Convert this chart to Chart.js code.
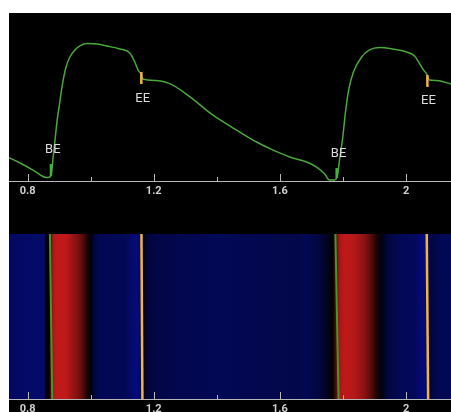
<!DOCTYPE html>
<html>
<head>
<meta charset="utf-8">
<script src="https://cdn.jsdelivr.net/npm/chart.js@4.4.1/dist/chart.umd.min.js"></script>
<style>
  html, body { margin: 0; padding: 0; background: #fff; }
  #panel { position: absolute; left: 9px; top: 13px; width: 442px; height: 399px; background: #000; }
  canvas { position: absolute; left: 9px; }
  #wave { top: 13px; }
  #spec { top: 200px; }
</style>
</head>
<body>
<div id="panel"></div>
<canvas id="wave" width="442" height="187"></canvas>
<canvas id="spec" width="442" height="212"></canvas>
<script>
// time axis (s)
const X_MIN = 0.741;
const X_MAX = 2.1425;
const majorTicks = [0.8, 1.2, 1.6, 2.0];
const minorTicks = [1.0, 1.4, 1.8];

// pressure-like waveform, arbitrary units (0 = axis, 100 = panel top)
const waveTime = [
  0.741, 0.776, 0.817, 0.852, 0.864, 0.871, 0.877, 0.880, 0.887, 0.893,
  0.903, 0.909, 0.921, 0.934, 0.950, 0.966, 0.988, 1.020, 1.055, 1.092,
  1.124, 1.140, 1.153, 1.159, 1.165, 1.209, 1.260, 1.314, 1.387, 1.472,
  1.526, 1.577, 1.631, 1.685, 1.716, 1.742, 1.757, 1.773, 1.783, 1.789,
  1.799, 1.808, 1.818, 1.833, 1.859, 1.884, 1.916, 1.957, 2.001, 2.027,
  2.042, 2.055, 2.066, 2.074, 2.097, 2.1425
];
const waveValue = [
  13.9, 10.7, 6.5, 2.4, 2.1, 2.4, 6.5, 12.5, 24.4, 35.1,
  48.2, 56.0, 67.3, 73.8, 78.0, 80.4, 81.8, 81.5, 80.2, 78.6,
  76.2, 70.8, 65.1, 64.3, 60.7, 59.8, 57.1, 50.2, 39.3, 29.2,
  23.2, 18.5, 14.3, 11.3, 8.3, 4.2, 0.6, 0.6, 3.6, 12.5,
  25.6, 41.1, 54.2, 64.9, 73.8, 78.0, 79.5, 78.6, 76.8, 74.4,
  70.2, 66.1, 63.5, 60.1, 59.8, 57.7
];

// event markers
const beTimes = [0.874, 1.780];
const beLow = [3.0, 1.8];
const beHigh = [10.1, 7.7];
const eeTimes = [1.1606, 2.0677];
const eeLow = [57.7, 56.0];
const eeHigh = [64.9, 63.1];

const markText = ["BE", "EE", "BE", "EE"];
const markTextTime = [0.880, 1.165, 1.786, 2.071];
const markTextValue = [18.5, 48.8, 16.1, 47.6];

// spectrogram: time vs signed level (-1 blue .. 0 black .. +1 red)
const specTime = [
  0.741, 0.776, 0.839, 0.852, 0.858, 0.868, 0.880, 0.890, 0.921, 0.934,
  0.959, 0.978, 0.991, 1.001, 1.013, 1.029, 1.108, 1.124, 1.146, 1.159,
  1.168, 1.178, 1.203, 1.282, 1.409, 1.536, 1.662, 1.678, 1.726, 1.751,
  1.767, 1.789, 1.805, 1.837, 1.868, 1.890, 1.906, 1.922, 1.941, 1.979,
  2.027, 2.056, 2.068, 2.081, 2.106, 2.1425
];
const specLevel = [
  -0.6, -0.65, -0.68, -0.7, -0.1, 0.0, 0.8, 0.9, 0.9, 0.8,
  0.6, 0.35, 0.1, -0.1, -0.4, -0.55, -0.55, -0.65, -0.8, -0.6,
  -0.2, -0.35, -0.45, -0.5, -0.55, -0.5, -0.48, -0.55, -0.4, -0.2,
  0.0, 0.8, 0.9, 0.85, 0.65, 0.4, 0.15, -0.1, -0.4, -0.55,
  -0.6, -0.8, -0.6, -0.4, -0.55, -0.55
];
const beLineTop = [0.8708, 1.776];
const beLineBottom = [0.878, 1.786];
const eeLineTop = [1.161, 2.0656];
const eeLineBottom = [1.164, 2.070];

const GREEN = "#4aa83c";
const MARK_GREEN = "#3fb43a";
const YELLOW = "#f2b43a";
const AXIS = "#b8b8b8";

function levelColor(l) {
  const a = Math.min(1, Math.abs(l));
  if (l < 0) return `rgb(${Math.round(6 * a)},${Math.round(14 * a)},${Math.round(155 * a)})`;
  return `rgb(${Math.round(212 * a)},${Math.round(28 * a)},${Math.round(28 * a)})`;
}

function heatGradient(chart) {
  const { ctx, chartArea, scales } = chart;
  if (!chartArea || !scales.x) return "rgba(0,0,0,0)";
  const w = chartArea.right - chartArea.left;
  const g = ctx.createLinearGradient(chartArea.left, 0, chartArea.right, 0);
  specTime.forEach((t, i) => {
    const p = (scales.x.getPixelForValue(t) - chartArea.left) / w;
    g.addColorStop(Math.min(1, Math.max(0, p)), levelColor(specLevel[i]));
  });
  return g;
}

// small tick marks pointing up into the plot
const tickMarks = {
  id: "tickMarks",
  afterDatasetsDraw(chart) {
    const { ctx, chartArea, scales } = chart;
    const y = chartArea.bottom;
    ctx.save();
    ctx.strokeStyle = AXIS;
    ctx.lineWidth = 1;
    majorTicks.forEach((v) => {
      const x = Math.round(scales.x.getPixelForValue(v)) + 0.5;
      ctx.beginPath(); ctx.moveTo(x, y); ctx.lineTo(x, y - 7); ctx.stroke();
    });
    minorTicks.forEach((v) => {
      const x = Math.round(scales.x.getPixelForValue(v)) + 0.5;
      ctx.beginPath(); ctx.moveTo(x, y); ctx.lineTo(x, y - 4); ctx.stroke();
    });
    ctx.restore();
  },
};

const markLabels = {
  id: "markLabels",
  afterDatasetsDraw(chart) {
    if (chart.canvas.id !== "wave") return;
    const { ctx, scales } = chart;
    ctx.save();
    ctx.fillStyle = "#dcdcdc";
    ctx.font = "13px Roboto";
    ctx.textAlign = "center";
    ctx.textBaseline = "middle";
    markText.forEach((txt, i) => {
      ctx.fillText(txt, scales.x.getPixelForValue(markTextTime[i]), scales.y.getPixelForValue(markTextValue[i]));
    });
    ctx.restore();
  },
};

function xScale(height) {
  return {
    type: "linear",
    min: X_MIN,
    max: X_MAX,
    afterBuildTicks: (scale) => {
      scale.ticks = majorTicks.map((v) => ({ value: v }));
    },
    afterFit: (scale) => {
      scale.height = height;
    },
    grid: { display: false, drawTicks: false },
    border: { display: true, color: AXIS, width: 1 },
    ticks: {
      color: "#cfcfcf",
      padding: 4,
      maxRotation: 0,
      autoSkip: false,
      font: { family: "Roboto", size: 11, weight: "bold" },
      callback: (v) => String(Math.round(v * 10) / 10),
    },
  };
}

function segment(t1, v1, t2, v2, color, width) {
  return {
    data: [{ x: t1, y: v1 }, { x: t2, y: v2 }],
    borderColor: color,
    borderWidth: width,
    pointRadius: 0,
    order: 0,
  };
}

const baseOptions = {
  responsive: false,
  devicePixelRatio: 1,
  animation: false,
  plugins: { legend: { display: false }, tooltip: { enabled: false } },
};

new Chart(document.getElementById("wave"), {
  type: "line",
  data: {
    datasets: [
      {
        data: waveTime.map((t, i) => ({ x: t, y: waveValue[i] })),
        borderColor: GREEN,
        borderWidth: 1.5,
        pointRadius: 0,
        cubicInterpolationMode: "monotone",
        order: 1,
      },
      ...beTimes.map((t, i) => segment(t, beLow[i], t, beHigh[i], MARK_GREEN, 2.5)),
      ...eeTimes.map((t, i) => segment(t, eeLow[i], t, eeHigh[i], YELLOW, 2.5)),
    ],
  },
  options: {
    ...baseOptions,
    layout: { padding: 0 },
    scales: {
      x: xScale(19),
      y: { display: false, min: 0, max: 100 },
    },
  },
  plugins: [tickMarks, markLabels],
});

new Chart(document.getElementById("spec"), {
  type: "line",
  data: {
    datasets: [
      {
        data: specTime.map((t) => ({ x: t, y: 1 })),
        borderWidth: 0,
        pointRadius: 0,
        fill: "start",
        backgroundColor: (c) => heatGradient(c.chart),
        order: 10,
      },
      ...beLineTop.map((t, i) => segment(t, 1, beLineBottom[i], 0, "#3c9a2e", 2)),
      ...eeLineTop.map((t, i) => segment(t, 1, eeLineBottom[i], 0, YELLOW, 2.5)),
    ],
  },
  options: {
    ...baseOptions,
    layout: { padding: { top: 34, left: 0, right: 0, bottom: 0 } },
    scales: {
      x: xScale(13),
      y: { display: false, min: 0, max: 1 },
    },
  },
  plugins: [tickMarks],
});
</script>
</body>
</html>
